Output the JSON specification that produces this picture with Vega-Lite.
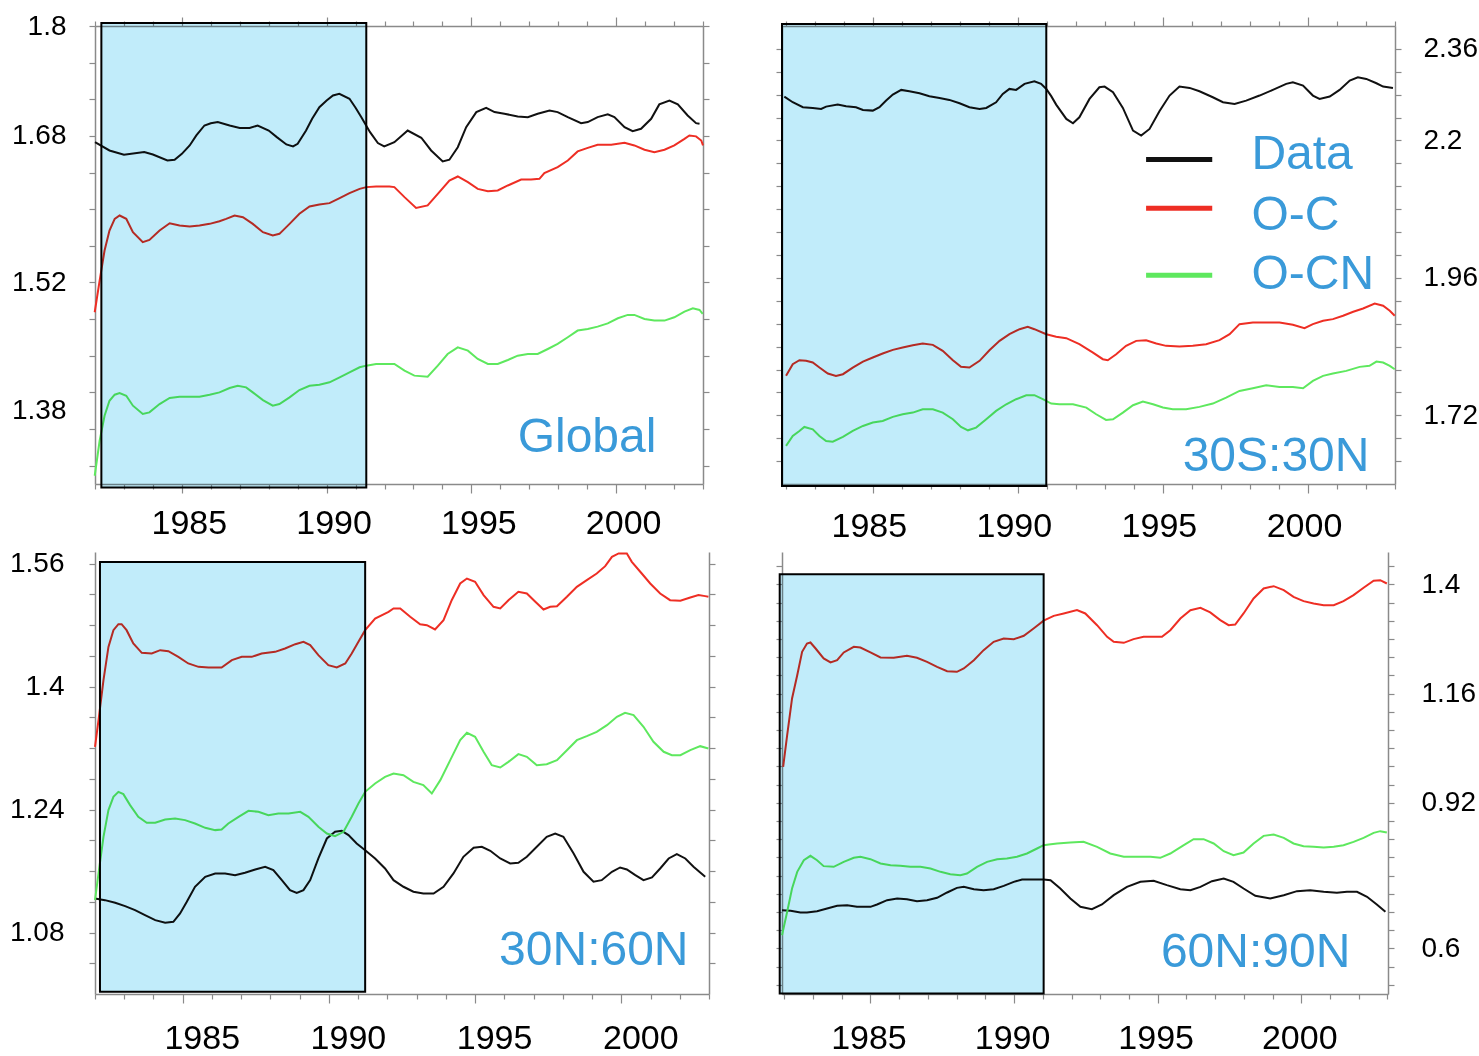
{
  "$schema": "https://vega.github.io/schema/vega-lite/v6.json",
  "padding": {"left": 9, "top": 12, "right": 0, "bottom": 10},
  "background": "white",
  "columns": 2,
  "spacing": {"row": 68, "column": 73},
  "bounds": "flush",
  "config": {
    "view": {"stroke": null},
    "axis": {"grid": false, "domainColor": "#8a8a8a", "domainWidth": 1.5, "tickColor": "#8a8a8a", "tickWidth": 1.2, "tickSize": 6, "labelFont": "Liberation Sans", "labelFontSize": 28, "labelColor": "#000000", "labelOverlap": false, "labelFlush": false, "labelBound": false, "title": null}
  },
  "datasets": {
    "tl": [
      {"year":1982.0,"value":1.6732,"series":"Data"},{"year":1982.5,"value":1.6641,"series":"Data"},{"year":1983.0,"value":1.6594,"series":"Data"},{"year":1983.7,"value":1.6623,"series":"Data"},{"year":1984.0,"value":1.6597,"series":"Data"},{"year":1984.5,"value":1.6532,"series":"Data"},{"year":1984.75,"value":1.654,"series":"Data"},{"year":1985.0,"value":1.6604,"series":"Data"},{"year":1985.27,"value":1.6696,"series":"Data"},{"year":1985.5,"value":1.6805,"series":"Data"},{"year":1985.78,"value":1.6914,"series":"Data"},{"year":1986.0,"value":1.6939,"series":"Data"},{"year":1986.24,"value":1.6951,"series":"Data"},{"year":1986.65,"value":1.6914,"series":"Data"},{"year":1987.0,"value":1.6886,"series":"Data"},{"year":1987.34,"value":1.6886,"series":"Data"},{"year":1987.62,"value":1.6914,"series":"Data"},{"year":1988.0,"value":1.6859,"series":"Data"},{"year":1988.28,"value":1.6787,"series":"Data"},{"year":1988.61,"value":1.6707,"series":"Data"},{"year":1988.84,"value":1.6685,"series":"Data"},{"year":1989.0,"value":1.6714,"series":"Data"},{"year":1989.29,"value":1.6859,"series":"Data"},{"year":1989.5,"value":1.6987,"series":"Data"},{"year":1989.75,"value":1.7114,"series":"Data"},{"year":1990.0,"value":1.7187,"series":"Data"},{"year":1990.22,"value":1.7242,"series":"Data"},{"year":1990.44,"value":1.726,"series":"Data"},{"year":1990.79,"value":1.7206,"series":"Data"},{"year":1991.0,"value":1.7107,"series":"Data"},{"year":1991.2,"value":1.7005,"series":"Data"},{"year":1991.5,"value":1.6841,"series":"Data"},{"year":1991.77,"value":1.6722,"series":"Data"},{"year":1991.99,"value":1.6685,"series":"Data"},{"year":1992.34,"value":1.6732,"series":"Data"},{"year":1992.8,"value":1.6859,"series":"Data"},{"year":1993.27,"value":1.678,"series":"Data"},{"year":1993.61,"value":1.6641,"series":"Data"},{"year":1994.01,"value":1.6521,"series":"Data"},{"year":1994.24,"value":1.654,"series":"Data"},{"year":1994.53,"value":1.6677,"series":"Data"},{"year":1994.82,"value":1.6896,"series":"Data"},{"year":1995.17,"value":1.706,"series":"Data"},{"year":1995.51,"value":1.7107,"series":"Data"},{"year":1995.8,"value":1.706,"series":"Data"},{"year":1996.14,"value":1.7042,"series":"Data"},{"year":1996.6,"value":1.7013,"series":"Data"},{"year":1996.95,"value":1.7005,"series":"Data"},{"year":1997.29,"value":1.7042,"series":"Data"},{"year":1997.7,"value":1.7078,"series":"Data"},{"year":1997.98,"value":1.706,"series":"Data"},{"year":1998.33,"value":1.7005,"series":"Data"},{"year":1998.79,"value":1.6939,"series":"Data"},{"year":1999.02,"value":1.6951,"series":"Data"},{"year":1999.36,"value":1.7005,"series":"Data"},{"year":1999.71,"value":1.7035,"series":"Data"},{"year":1999.94,"value":1.7005,"series":"Data"},{"year":2000.29,"value":1.6896,"series":"Data"},{"year":2000.57,"value":1.6852,"series":"Data"},{"year":2000.86,"value":1.6878,"series":"Data"},{"year":2001.21,"value":1.6987,"series":"Data"},{"year":2001.49,"value":1.7144,"series":"Data"},{"year":2001.84,"value":1.7187,"series":"Data"},{"year":2002.13,"value":1.7144,"series":"Data"},{"year":2002.47,"value":1.7023,"series":"Data"},{"year":2002.76,"value":1.6939,"series":"Data"},{"year":2002.88,"value":1.6932,"series":"Data"},
      {"year":1981.99,"value":1.4875,"series":"O-C"},{"year":1982.16,"value":1.5221,"series":"O-C"},{"year":1982.33,"value":1.5549,"series":"O-C"},{"year":1982.5,"value":1.5767,"series":"O-C"},{"year":1982.68,"value":1.5895,"series":"O-C"},{"year":1982.85,"value":1.5931,"series":"O-C"},{"year":1983.08,"value":1.5895,"series":"O-C"},{"year":1983.31,"value":1.5749,"series":"O-C"},{"year":1983.65,"value":1.564,"series":"O-C"},{"year":1983.88,"value":1.5665,"series":"O-C"},{"year":1984.23,"value":1.5767,"series":"O-C"},{"year":1984.58,"value":1.5847,"series":"O-C"},{"year":1984.92,"value":1.5822,"series":"O-C"},{"year":1985.27,"value":1.5811,"series":"O-C"},{"year":1985.61,"value":1.5822,"series":"O-C"},{"year":1985.96,"value":1.584,"series":"O-C"},{"year":1986.3,"value":1.5869,"series":"O-C"},{"year":1986.53,"value":1.5895,"series":"O-C"},{"year":1986.82,"value":1.5931,"series":"O-C"},{"year":1987.11,"value":1.5913,"series":"O-C"},{"year":1987.45,"value":1.584,"series":"O-C"},{"year":1987.8,"value":1.5749,"series":"O-C"},{"year":1988.14,"value":1.5713,"series":"O-C"},{"year":1988.37,"value":1.5731,"series":"O-C"},{"year":1988.72,"value":1.584,"series":"O-C"},{"year":1989.06,"value":1.595,"series":"O-C"},{"year":1989.41,"value":1.603,"series":"O-C"},{"year":1989.75,"value":1.6051,"series":"O-C"},{"year":1990.1,"value":1.6066,"series":"O-C"},{"year":1990.45,"value":1.6121,"series":"O-C"},{"year":1990.79,"value":1.6175,"series":"O-C"},{"year":1991.14,"value":1.6222,"series":"O-C"},{"year":1991.37,"value":1.6241,"series":"O-C"},{"year":1991.71,"value":1.6248,"series":"O-C"},{"year":1992.17,"value":1.6248,"series":"O-C"},{"year":1992.34,"value":1.6241,"series":"O-C"},{"year":1992.69,"value":1.6132,"series":"O-C"},{"year":1993.09,"value":1.6014,"series":"O-C"},{"year":1993.49,"value":1.6041,"series":"O-C"},{"year":1993.84,"value":1.6168,"series":"O-C"},{"year":1994.24,"value":1.6313,"series":"O-C"},{"year":1994.53,"value":1.6357,"series":"O-C"},{"year":1994.88,"value":1.6295,"series":"O-C"},{"year":1995.22,"value":1.6222,"series":"O-C"},{"year":1995.57,"value":1.6197,"series":"O-C"},{"year":1995.91,"value":1.6205,"series":"O-C"},{"year":1996.26,"value":1.6259,"series":"O-C"},{"year":1996.72,"value":1.6324,"series":"O-C"},{"year":1997.06,"value":1.6324,"series":"O-C"},{"year":1997.35,"value":1.6332,"series":"O-C"},{"year":1997.52,"value":1.6394,"series":"O-C"},{"year":1997.98,"value":1.6459,"series":"O-C"},{"year":1998.33,"value":1.6532,"series":"O-C"},{"year":1998.67,"value":1.6631,"series":"O-C"},{"year":1999.02,"value":1.667,"series":"O-C"},{"year":1999.36,"value":1.6704,"series":"O-C"},{"year":1999.83,"value":1.6704,"series":"O-C"},{"year":2000.29,"value":1.6725,"series":"O-C"},{"year":2000.63,"value":1.6696,"series":"O-C"},{"year":2000.98,"value":1.6649,"series":"O-C"},{"year":2001.32,"value":1.6623,"series":"O-C"},{"year":2001.67,"value":1.6649,"series":"O-C"},{"year":2002.01,"value":1.6696,"series":"O-C"},{"year":2002.36,"value":1.6768,"series":"O-C"},{"year":2002.53,"value":1.6805,"series":"O-C"},{"year":2002.76,"value":1.6795,"series":"O-C"},{"year":2002.94,"value":1.675,"series":"O-C"},{"year":2003.0,"value":1.6696,"series":"O-C"},
      {"year":1981.99,"value":1.309,"series":"O-CN"},{"year":1982.16,"value":1.3472,"series":"O-CN"},{"year":1982.33,"value":1.3745,"series":"O-CN"},{"year":1982.5,"value":1.3909,"series":"O-CN"},{"year":1982.68,"value":1.3975,"series":"O-CN"},{"year":1982.85,"value":1.3993,"series":"O-CN"},{"year":1983.08,"value":1.3964,"series":"O-CN"},{"year":1983.31,"value":1.3855,"series":"O-CN"},{"year":1983.65,"value":1.3764,"series":"O-CN"},{"year":1983.88,"value":1.3782,"series":"O-CN"},{"year":1984.23,"value":1.3873,"series":"O-CN"},{"year":1984.58,"value":1.3939,"series":"O-CN"},{"year":1984.92,"value":1.3953,"series":"O-CN"},{"year":1985.27,"value":1.3953,"series":"O-CN"},{"year":1985.61,"value":1.3953,"series":"O-CN"},{"year":1985.96,"value":1.3975,"series":"O-CN"},{"year":1986.3,"value":1.4,"series":"O-CN"},{"year":1986.65,"value":1.4048,"series":"O-CN"},{"year":1986.93,"value":1.4073,"series":"O-CN"},{"year":1987.22,"value":1.4055,"series":"O-CN"},{"year":1987.45,"value":1.4,"series":"O-CN"},{"year":1987.8,"value":1.3916,"series":"O-CN"},{"year":1988.14,"value":1.3855,"series":"O-CN"},{"year":1988.37,"value":1.3873,"series":"O-CN"},{"year":1988.72,"value":1.3946,"series":"O-CN"},{"year":1989.06,"value":1.4026,"series":"O-CN"},{"year":1989.41,"value":1.4073,"series":"O-CN"},{"year":1989.75,"value":1.4084,"series":"O-CN"},{"year":1990.1,"value":1.411,"series":"O-CN"},{"year":1990.45,"value":1.4164,"series":"O-CN"},{"year":1990.79,"value":1.4219,"series":"O-CN"},{"year":1991.14,"value":1.4274,"series":"O-CN"},{"year":1991.37,"value":1.4292,"series":"O-CN"},{"year":1991.71,"value":1.431,"series":"O-CN"},{"year":1992.17,"value":1.431,"series":"O-CN"},{"year":1992.34,"value":1.431,"series":"O-CN"},{"year":1992.69,"value":1.4237,"series":"O-CN"},{"year":1993.03,"value":1.4183,"series":"O-CN"},{"year":1993.49,"value":1.4171,"series":"O-CN"},{"year":1993.84,"value":1.4292,"series":"O-CN"},{"year":1994.18,"value":1.4419,"series":"O-CN"},{"year":1994.53,"value":1.4492,"series":"O-CN"},{"year":1994.88,"value":1.4456,"series":"O-CN"},{"year":1995.22,"value":1.4365,"series":"O-CN"},{"year":1995.57,"value":1.431,"series":"O-CN"},{"year":1995.91,"value":1.431,"series":"O-CN"},{"year":1996.26,"value":1.4354,"series":"O-CN"},{"year":1996.6,"value":1.4401,"series":"O-CN"},{"year":1996.95,"value":1.4419,"series":"O-CN"},{"year":1997.29,"value":1.4419,"series":"O-CN"},{"year":1997.64,"value":1.4474,"series":"O-CN"},{"year":1997.98,"value":1.4529,"series":"O-CN"},{"year":1998.33,"value":1.4602,"series":"O-CN"},{"year":1998.67,"value":1.4675,"series":"O-CN"},{"year":1999.02,"value":1.4693,"series":"O-CN"},{"year":1999.36,"value":1.4718,"series":"O-CN"},{"year":1999.71,"value":1.4754,"series":"O-CN"},{"year":2000.06,"value":1.4809,"series":"O-CN"},{"year":2000.4,"value":1.4846,"series":"O-CN"},{"year":2000.63,"value":1.4846,"series":"O-CN"},{"year":2000.98,"value":1.4802,"series":"O-CN"},{"year":2001.32,"value":1.4784,"series":"O-CN"},{"year":2001.67,"value":1.4784,"series":"O-CN"},{"year":2002.01,"value":1.482,"series":"O-CN"},{"year":2002.36,"value":1.4882,"series":"O-CN"},{"year":2002.65,"value":1.4918,"series":"O-CN"},{"year":2002.88,"value":1.49,"series":"O-CN"},{"year":2002.99,"value":1.4857,"series":"O-CN"}
    ],
    "tr": [
      {"year":1981.95,"value":2.2767,"series":"Data"},{"year":1982.24,"value":2.2668,"series":"Data"},{"year":1982.59,"value":2.2581,"series":"Data"},{"year":1982.93,"value":2.2569,"series":"Data"},{"year":1983.22,"value":2.2551,"series":"Data"},{"year":1983.39,"value":2.2592,"series":"Data"},{"year":1983.79,"value":2.2627,"series":"Data"},{"year":1984.08,"value":2.2598,"series":"Data"},{"year":1984.42,"value":2.2581,"series":"Data"},{"year":1984.66,"value":2.2534,"series":"Data"},{"year":1985.0,"value":2.2522,"series":"Data"},{"year":1985.23,"value":2.2581,"series":"Data"},{"year":1985.46,"value":2.2697,"series":"Data"},{"year":1985.69,"value":2.2802,"series":"Data"},{"year":1985.98,"value":2.2884,"series":"Data"},{"year":1986.26,"value":2.286,"series":"Data"},{"year":1986.61,"value":2.2825,"series":"Data"},{"year":1986.95,"value":2.2773,"series":"Data"},{"year":1987.3,"value":2.2744,"series":"Data"},{"year":1987.64,"value":2.2709,"series":"Data"},{"year":1987.99,"value":2.2651,"series":"Data"},{"year":1988.33,"value":2.2581,"series":"Data"},{"year":1988.68,"value":2.2551,"series":"Data"},{"year":1988.91,"value":2.2569,"series":"Data"},{"year":1989.25,"value":2.2668,"series":"Data"},{"year":1989.48,"value":2.2814,"series":"Data"},{"year":1989.71,"value":2.2901,"series":"Data"},{"year":1989.94,"value":2.2884,"series":"Data"},{"year":1990.23,"value":2.2989,"series":"Data"},{"year":1990.57,"value":2.3035,"series":"Data"},{"year":1990.8,"value":2.2989,"series":"Data"},{"year":1990.98,"value":2.29,"series":"Data"},{"year":1991.15,"value":2.2775,"series":"Data"},{"year":1991.32,"value":2.2627,"series":"Data"},{"year":1991.67,"value":2.2377,"series":"Data"},{"year":1991.9,"value":2.2301,"series":"Data"},{"year":1992.12,"value":2.2406,"series":"Data"},{"year":1992.47,"value":2.2726,"series":"Data"},{"year":1992.81,"value":2.293,"series":"Data"},{"year":1992.99,"value":2.2942,"series":"Data"},{"year":1993.28,"value":2.2843,"series":"Data"},{"year":1993.62,"value":2.2569,"series":"Data"},{"year":1993.97,"value":2.2173,"series":"Data"},{"year":1994.25,"value":2.2085,"series":"Data"},{"year":1994.54,"value":2.2202,"series":"Data"},{"year":1994.88,"value":2.2511,"series":"Data"},{"year":1995.23,"value":2.2785,"series":"Data"},{"year":1995.57,"value":2.2942,"series":"Data"},{"year":1995.92,"value":2.2919,"series":"Data"},{"year":1996.26,"value":2.286,"series":"Data"},{"year":1996.72,"value":2.2755,"series":"Data"},{"year":1997.07,"value":2.2668,"series":"Data"},{"year":1997.47,"value":2.2639,"series":"Data"},{"year":1997.87,"value":2.2697,"series":"Data"},{"year":1998.33,"value":2.2785,"series":"Data"},{"year":1998.79,"value":2.2884,"series":"Data"},{"year":1999.25,"value":2.2989,"series":"Data"},{"year":1999.48,"value":2.3018,"series":"Data"},{"year":1999.83,"value":2.296,"series":"Data"},{"year":2000.17,"value":2.2785,"series":"Data"},{"year":2000.4,"value":2.2726,"series":"Data"},{"year":2000.75,"value":2.2767,"series":"Data"},{"year":2001.09,"value":2.2884,"series":"Data"},{"year":2001.44,"value":2.3047,"series":"Data"},{"year":2001.72,"value":2.3105,"series":"Data"},{"year":2002.01,"value":2.3076,"series":"Data"},{"year":2002.36,"value":2.3,"series":"Data"},{"year":2002.59,"value":2.2942,"series":"Data"},{"year":2002.93,"value":2.2919,"series":"Data"},
      {"year":1982.01,"value":1.7889,"series":"O-C"},{"year":1982.24,"value":1.8093,"series":"O-C"},{"year":1982.47,"value":1.8162,"series":"O-C"},{"year":1982.7,"value":1.8151,"series":"O-C"},{"year":1982.93,"value":1.8122,"series":"O-C"},{"year":1983.16,"value":1.8034,"series":"O-C"},{"year":1983.45,"value":1.7929,"series":"O-C"},{"year":1983.73,"value":1.7889,"series":"O-C"},{"year":1983.97,"value":1.7918,"series":"O-C"},{"year":1984.31,"value":1.8034,"series":"O-C"},{"year":1984.66,"value":1.8139,"series":"O-C"},{"year":1985.0,"value":1.8209,"series":"O-C"},{"year":1985.34,"value":1.8279,"series":"O-C"},{"year":1985.69,"value":1.8343,"series":"O-C"},{"year":1986.03,"value":1.8384,"series":"O-C"},{"year":1986.38,"value":1.8425,"series":"O-C"},{"year":1986.72,"value":1.8454,"series":"O-C"},{"year":1987.07,"value":1.843,"series":"O-C"},{"year":1987.41,"value":1.8326,"series":"O-C"},{"year":1987.76,"value":1.8162,"series":"O-C"},{"year":1988.04,"value":1.8046,"series":"O-C"},{"year":1988.33,"value":1.8034,"series":"O-C"},{"year":1988.68,"value":1.8151,"series":"O-C"},{"year":1989.02,"value":1.8337,"series":"O-C"},{"year":1989.37,"value":1.85,"series":"O-C"},{"year":1989.71,"value":1.8617,"series":"O-C"},{"year":1990.06,"value":1.8704,"series":"O-C"},{"year":1990.34,"value":1.8745,"series":"O-C"},{"year":1990.57,"value":1.8704,"series":"O-C"},{"year":1990.98,"value":1.8617,"series":"O-C"},{"year":1991.32,"value":1.8571,"series":"O-C"},{"year":1991.67,"value":1.8547,"series":"O-C"},{"year":1992.12,"value":1.8442,"series":"O-C"},{"year":1992.59,"value":1.8296,"series":"O-C"},{"year":1992.93,"value":1.818,"series":"O-C"},{"year":1993.1,"value":1.8162,"series":"O-C"},{"year":1993.39,"value":1.8267,"series":"O-C"},{"year":1993.73,"value":1.8413,"series":"O-C"},{"year":1994.08,"value":1.85,"series":"O-C"},{"year":1994.42,"value":1.8512,"series":"O-C"},{"year":1994.77,"value":1.8454,"series":"O-C"},{"year":1995.11,"value":1.8413,"series":"O-C"},{"year":1995.57,"value":1.8401,"series":"O-C"},{"year":1996.03,"value":1.8413,"series":"O-C"},{"year":1996.49,"value":1.8442,"series":"O-C"},{"year":1996.95,"value":1.8512,"series":"O-C"},{"year":1997.3,"value":1.8617,"series":"O-C"},{"year":1997.64,"value":1.8792,"series":"O-C"},{"year":1998.1,"value":1.8821,"series":"O-C"},{"year":1998.56,"value":1.8821,"series":"O-C"},{"year":1999.02,"value":1.8821,"series":"O-C"},{"year":1999.48,"value":1.878,"series":"O-C"},{"year":1999.88,"value":1.8722,"series":"O-C"},{"year":2000.17,"value":1.8792,"series":"O-C"},{"year":2000.52,"value":1.885,"series":"O-C"},{"year":2000.86,"value":1.888,"series":"O-C"},{"year":2001.21,"value":1.8938,"series":"O-C"},{"year":2001.56,"value":1.9008,"series":"O-C"},{"year":2001.9,"value":1.9066,"series":"O-C"},{"year":2002.3,"value":1.9153,"series":"O-C"},{"year":2002.59,"value":1.9113,"series":"O-C"},{"year":2002.82,"value":1.9025,"series":"O-C"},{"year":2002.99,"value":1.8938,"series":"O-C"},
      {"year":1982.01,"value":1.6665,"series":"O-CN"},{"year":1982.24,"value":1.6839,"series":"O-CN"},{"year":1982.47,"value":1.6927,"series":"O-CN"},{"year":1982.64,"value":1.6997,"series":"O-CN"},{"year":1982.93,"value":1.6956,"series":"O-CN"},{"year":1983.16,"value":1.6839,"series":"O-CN"},{"year":1983.39,"value":1.6752,"series":"O-CN"},{"year":1983.62,"value":1.674,"series":"O-CN"},{"year":1983.97,"value":1.6822,"series":"O-CN"},{"year":1984.31,"value":1.6927,"series":"O-CN"},{"year":1984.66,"value":1.7014,"series":"O-CN"},{"year":1985.0,"value":1.7073,"series":"O-CN"},{"year":1985.34,"value":1.7102,"series":"O-CN"},{"year":1985.69,"value":1.7172,"series":"O-CN"},{"year":1986.03,"value":1.7218,"series":"O-CN"},{"year":1986.38,"value":1.7247,"series":"O-CN"},{"year":1986.72,"value":1.7306,"series":"O-CN"},{"year":1987.07,"value":1.7306,"series":"O-CN"},{"year":1987.41,"value":1.7247,"series":"O-CN"},{"year":1987.76,"value":1.7131,"series":"O-CN"},{"year":1988.04,"value":1.6997,"series":"O-CN"},{"year":1988.28,"value":1.6938,"series":"O-CN"},{"year":1988.56,"value":1.6985,"series":"O-CN"},{"year":1988.91,"value":1.7131,"series":"O-CN"},{"year":1989.25,"value":1.7277,"series":"O-CN"},{"year":1989.6,"value":1.7393,"series":"O-CN"},{"year":1989.94,"value":1.7481,"series":"O-CN"},{"year":1990.29,"value":1.7551,"series":"O-CN"},{"year":1990.57,"value":1.7551,"series":"O-CN"},{"year":1990.86,"value":1.7481,"series":"O-CN"},{"year":1991.15,"value":1.7405,"series":"O-CN"},{"year":1991.43,"value":1.7393,"series":"O-CN"},{"year":1991.9,"value":1.7393,"series":"O-CN"},{"year":1992.36,"value":1.7335,"series":"O-CN"},{"year":1992.7,"value":1.7218,"series":"O-CN"},{"year":1993.04,"value":1.7119,"series":"O-CN"},{"year":1993.28,"value":1.7131,"series":"O-CN"},{"year":1993.62,"value":1.7247,"series":"O-CN"},{"year":1993.97,"value":1.7376,"series":"O-CN"},{"year":1994.31,"value":1.744,"series":"O-CN"},{"year":1994.66,"value":1.7393,"series":"O-CN"},{"year":1995.0,"value":1.7335,"series":"O-CN"},{"year":1995.34,"value":1.7306,"series":"O-CN"},{"year":1995.8,"value":1.7306,"series":"O-CN"},{"year":1996.26,"value":1.7347,"series":"O-CN"},{"year":1996.72,"value":1.7405,"series":"O-CN"},{"year":1997.18,"value":1.751,"series":"O-CN"},{"year":1997.64,"value":1.7626,"series":"O-CN"},{"year":1998.1,"value":1.7673,"series":"O-CN"},{"year":1998.56,"value":1.7725,"series":"O-CN"},{"year":1999.02,"value":1.7696,"series":"O-CN"},{"year":1999.48,"value":1.7696,"series":"O-CN"},{"year":1999.83,"value":1.7673,"series":"O-CN"},{"year":2000.17,"value":1.7801,"series":"O-CN"},{"year":2000.52,"value":1.7889,"series":"O-CN"},{"year":2000.86,"value":1.7929,"series":"O-CN"},{"year":2001.32,"value":1.7976,"series":"O-CN"},{"year":2001.78,"value":1.8046,"series":"O-CN"},{"year":2002.12,"value":1.8064,"series":"O-CN"},{"year":2002.36,"value":1.8139,"series":"O-CN"},{"year":2002.59,"value":1.8122,"series":"O-CN"},{"year":2002.82,"value":1.8064,"series":"O-CN"},{"year":2002.99,"value":1.8005,"series":"O-CN"}
    ],
    "bl": [
      {"year":1982.0,"value":1.1243,"series":"Data"},{"year":1982.34,"value":1.1221,"series":"Data"},{"year":1982.69,"value":1.1186,"series":"Data"},{"year":1983.03,"value":1.1143,"series":"Data"},{"year":1983.37,"value":1.1091,"series":"Data"},{"year":1983.71,"value":1.1026,"series":"Data"},{"year":1984.06,"value":1.0961,"series":"Data"},{"year":1984.4,"value":1.0926,"series":"Data"},{"year":1984.68,"value":1.0939,"series":"Data"},{"year":1984.91,"value":1.1048,"series":"Data"},{"year":1985.14,"value":1.1199,"series":"Data"},{"year":1985.42,"value":1.1395,"series":"Data"},{"year":1985.77,"value":1.1525,"series":"Data"},{"year":1986.11,"value":1.1568,"series":"Data"},{"year":1986.45,"value":1.1568,"series":"Data"},{"year":1986.79,"value":1.1546,"series":"Data"},{"year":1987.13,"value":1.1577,"series":"Data"},{"year":1987.48,"value":1.162,"series":"Data"},{"year":1987.82,"value":1.1655,"series":"Data"},{"year":1988.1,"value":1.1611,"series":"Data"},{"year":1988.39,"value":1.1481,"series":"Data"},{"year":1988.67,"value":1.1351,"series":"Data"},{"year":1988.9,"value":1.1316,"series":"Data"},{"year":1989.13,"value":1.1351,"series":"Data"},{"year":1989.36,"value":1.1481,"series":"Data"},{"year":1989.64,"value":1.1763,"series":"Data"},{"year":1989.93,"value":1.2023,"series":"Data"},{"year":1990.21,"value":1.211,"series":"Data"},{"year":1990.44,"value":1.2123,"series":"Data"},{"year":1990.67,"value":1.2067,"series":"Data"},{"year":1990.95,"value":1.1958,"series":"Data"},{"year":1991.24,"value":1.1871,"series":"Data"},{"year":1991.58,"value":1.1763,"series":"Data"},{"year":1991.92,"value":1.1633,"series":"Data"},{"year":1992.21,"value":1.1481,"series":"Data"},{"year":1992.55,"value":1.1395,"series":"Data"},{"year":1992.89,"value":1.133,"series":"Data"},{"year":1993.23,"value":1.1308,"series":"Data"},{"year":1993.58,"value":1.1308,"series":"Data"},{"year":1993.92,"value":1.1395,"series":"Data"},{"year":1994.26,"value":1.1568,"series":"Data"},{"year":1994.6,"value":1.1785,"series":"Data"},{"year":1994.95,"value":1.1902,"series":"Data"},{"year":1995.23,"value":1.1915,"series":"Data"},{"year":1995.52,"value":1.1863,"series":"Data"},{"year":1995.86,"value":1.1763,"series":"Data"},{"year":1996.2,"value":1.1698,"series":"Data"},{"year":1996.48,"value":1.1707,"series":"Data"},{"year":1996.77,"value":1.1785,"series":"Data"},{"year":1997.11,"value":1.1915,"series":"Data"},{"year":1997.45,"value":1.2045,"series":"Data"},{"year":1997.74,"value":1.2088,"series":"Data"},{"year":1998.02,"value":1.2045,"series":"Data"},{"year":1998.37,"value":1.1828,"series":"Data"},{"year":1998.71,"value":1.159,"series":"Data"},{"year":1999.05,"value":1.146,"series":"Data"},{"year":1999.33,"value":1.1481,"series":"Data"},{"year":1999.68,"value":1.159,"series":"Data"},{"year":1999.96,"value":1.1646,"series":"Data"},{"year":2000.19,"value":1.162,"series":"Data"},{"year":2000.48,"value":1.1546,"series":"Data"},{"year":2000.76,"value":1.1481,"series":"Data"},{"year":2001.05,"value":1.1516,"series":"Data"},{"year":2001.33,"value":1.1633,"series":"Data"},{"year":2001.62,"value":1.1763,"series":"Data"},{"year":2001.9,"value":1.1819,"series":"Data"},{"year":2002.19,"value":1.1763,"series":"Data"},{"year":2002.47,"value":1.1655,"series":"Data"},{"year":2002.87,"value":1.1525,"series":"Data"},
      {"year":1982.0,"value":1.3216,"series":"O-C"},{"year":1982.12,"value":1.3562,"series":"O-C"},{"year":1982.29,"value":1.4083,"series":"O-C"},{"year":1982.46,"value":1.4516,"series":"O-C"},{"year":1982.63,"value":1.4733,"series":"O-C"},{"year":1982.8,"value":1.4811,"series":"O-C"},{"year":1982.91,"value":1.4811,"series":"O-C"},{"year":1983.08,"value":1.4733,"series":"O-C"},{"year":1983.31,"value":1.456,"series":"O-C"},{"year":1983.6,"value":1.4438,"series":"O-C"},{"year":1983.94,"value":1.443,"series":"O-C"},{"year":1984.23,"value":1.4473,"series":"O-C"},{"year":1984.51,"value":1.446,"series":"O-C"},{"year":1984.85,"value":1.4386,"series":"O-C"},{"year":1985.19,"value":1.43,"series":"O-C"},{"year":1985.54,"value":1.4256,"series":"O-C"},{"year":1985.88,"value":1.4248,"series":"O-C"},{"year":1986.33,"value":1.4248,"series":"O-C"},{"year":1986.68,"value":1.4343,"series":"O-C"},{"year":1987.02,"value":1.4386,"series":"O-C"},{"year":1987.36,"value":1.4386,"series":"O-C"},{"year":1987.7,"value":1.443,"series":"O-C"},{"year":1988.16,"value":1.4451,"series":"O-C"},{"year":1988.5,"value":1.4495,"series":"O-C"},{"year":1988.85,"value":1.4551,"series":"O-C"},{"year":1989.13,"value":1.4581,"series":"O-C"},{"year":1989.36,"value":1.4538,"series":"O-C"},{"year":1989.64,"value":1.4408,"series":"O-C"},{"year":1989.98,"value":1.4278,"series":"O-C"},{"year":1990.27,"value":1.4248,"series":"O-C"},{"year":1990.56,"value":1.43,"series":"O-C"},{"year":1990.78,"value":1.443,"series":"O-C"},{"year":1991.01,"value":1.4581,"series":"O-C"},{"year":1991.24,"value":1.4733,"series":"O-C"},{"year":1991.58,"value":1.4885,"series":"O-C"},{"year":1992.04,"value":1.4972,"series":"O-C"},{"year":1992.21,"value":1.5015,"series":"O-C"},{"year":1992.44,"value":1.5015,"series":"O-C"},{"year":1992.78,"value":1.4907,"series":"O-C"},{"year":1993.12,"value":1.4811,"series":"O-C"},{"year":1993.35,"value":1.4798,"series":"O-C"},{"year":1993.63,"value":1.4742,"series":"O-C"},{"year":1993.92,"value":1.4863,"series":"O-C"},{"year":1994.2,"value":1.5123,"series":"O-C"},{"year":1994.49,"value":1.534,"series":"O-C"},{"year":1994.72,"value":1.5405,"series":"O-C"},{"year":1995.0,"value":1.5362,"series":"O-C"},{"year":1995.29,"value":1.5189,"series":"O-C"},{"year":1995.63,"value":1.5037,"series":"O-C"},{"year":1995.86,"value":1.5015,"series":"O-C"},{"year":1996.14,"value":1.5123,"series":"O-C"},{"year":1996.48,"value":1.5232,"series":"O-C"},{"year":1996.77,"value":1.521,"series":"O-C"},{"year":1997.06,"value":1.5102,"series":"O-C"},{"year":1997.34,"value":1.5002,"series":"O-C"},{"year":1997.57,"value":1.5037,"series":"O-C"},{"year":1997.8,"value":1.5045,"series":"O-C"},{"year":1998.14,"value":1.5167,"series":"O-C"},{"year":1998.48,"value":1.5297,"series":"O-C"},{"year":1998.82,"value":1.5384,"series":"O-C"},{"year":1999.16,"value":1.547,"series":"O-C"},{"year":1999.45,"value":1.5566,"series":"O-C"},{"year":1999.68,"value":1.5687,"series":"O-C"},{"year":1999.91,"value":1.5731,"series":"O-C"},{"year":2000.19,"value":1.5731,"series":"O-C"},{"year":2000.36,"value":1.5622,"series":"O-C"},{"year":2000.7,"value":1.547,"series":"O-C"},{"year":2000.99,"value":1.534,"series":"O-C"},{"year":2001.33,"value":1.521,"series":"O-C"},{"year":2001.67,"value":1.5123,"series":"O-C"},{"year":2002.02,"value":1.5115,"series":"O-C"},{"year":2002.36,"value":1.5158,"series":"O-C"},{"year":2002.64,"value":1.5189,"series":"O-C"},{"year":2002.87,"value":1.5176,"series":"O-C"},{"year":2002.98,"value":1.5167,"series":"O-C"},
      {"year":1982.0,"value":1.1221,"series":"O-CN"},{"year":1982.12,"value":1.1568,"series":"O-CN"},{"year":1982.29,"value":1.2045,"series":"O-CN"},{"year":1982.46,"value":1.2392,"series":"O-CN"},{"year":1982.63,"value":1.2565,"series":"O-CN"},{"year":1982.8,"value":1.263,"series":"O-CN"},{"year":1982.97,"value":1.26,"series":"O-CN"},{"year":1983.2,"value":1.2457,"series":"O-CN"},{"year":1983.48,"value":1.2305,"series":"O-CN"},{"year":1983.77,"value":1.2227,"series":"O-CN"},{"year":1984.06,"value":1.2227,"series":"O-CN"},{"year":1984.4,"value":1.227,"series":"O-CN"},{"year":1984.74,"value":1.2283,"series":"O-CN"},{"year":1985.08,"value":1.2262,"series":"O-CN"},{"year":1985.42,"value":1.2218,"series":"O-CN"},{"year":1985.77,"value":1.2162,"series":"O-CN"},{"year":1986.11,"value":1.2132,"series":"O-CN"},{"year":1986.33,"value":1.214,"series":"O-CN"},{"year":1986.56,"value":1.2218,"series":"O-CN"},{"year":1986.91,"value":1.2305,"series":"O-CN"},{"year":1987.25,"value":1.2383,"series":"O-CN"},{"year":1987.59,"value":1.237,"series":"O-CN"},{"year":1987.93,"value":1.2327,"series":"O-CN"},{"year":1988.27,"value":1.2348,"series":"O-CN"},{"year":1988.62,"value":1.2348,"series":"O-CN"},{"year":1989.02,"value":1.237,"series":"O-CN"},{"year":1989.3,"value":1.2305,"series":"O-CN"},{"year":1989.64,"value":1.2175,"series":"O-CN"},{"year":1989.93,"value":1.2088,"series":"O-CN"},{"year":1990.21,"value":1.2054,"series":"O-CN"},{"year":1990.5,"value":1.211,"series":"O-CN"},{"year":1990.78,"value":1.2305,"series":"O-CN"},{"year":1991.01,"value":1.2479,"series":"O-CN"},{"year":1991.24,"value":1.263,"series":"O-CN"},{"year":1991.58,"value":1.2739,"series":"O-CN"},{"year":1991.92,"value":1.2825,"series":"O-CN"},{"year":1992.21,"value":1.2869,"series":"O-CN"},{"year":1992.55,"value":1.2847,"series":"O-CN"},{"year":1992.89,"value":1.276,"series":"O-CN"},{"year":1993.23,"value":1.2717,"series":"O-CN"},{"year":1993.52,"value":1.2609,"series":"O-CN"},{"year":1993.81,"value":1.2782,"series":"O-CN"},{"year":1994.15,"value":1.3042,"series":"O-CN"},{"year":1994.49,"value":1.3302,"series":"O-CN"},{"year":1994.72,"value":1.3398,"series":"O-CN"},{"year":1995.0,"value":1.3346,"series":"O-CN"},{"year":1995.29,"value":1.3151,"series":"O-CN"},{"year":1995.57,"value":1.2977,"series":"O-CN"},{"year":1995.86,"value":1.2947,"series":"O-CN"},{"year":1996.14,"value":1.302,"series":"O-CN"},{"year":1996.48,"value":1.312,"series":"O-CN"},{"year":1996.77,"value":1.3085,"series":"O-CN"},{"year":1997.11,"value":1.2977,"series":"O-CN"},{"year":1997.45,"value":1.299,"series":"O-CN"},{"year":1997.8,"value":1.3042,"series":"O-CN"},{"year":1998.14,"value":1.3172,"series":"O-CN"},{"year":1998.48,"value":1.3302,"series":"O-CN"},{"year":1998.82,"value":1.3354,"series":"O-CN"},{"year":1999.16,"value":1.3411,"series":"O-CN"},{"year":1999.51,"value":1.3497,"series":"O-CN"},{"year":1999.85,"value":1.3606,"series":"O-CN"},{"year":2000.13,"value":1.3658,"series":"O-CN"},{"year":2000.42,"value":1.3628,"series":"O-CN"},{"year":2000.76,"value":1.3476,"series":"O-CN"},{"year":2001.1,"value":1.3281,"series":"O-CN"},{"year":2001.45,"value":1.3151,"series":"O-CN"},{"year":2001.73,"value":1.3107,"series":"O-CN"},{"year":2002.02,"value":1.3107,"series":"O-CN"},{"year":2002.36,"value":1.3172,"series":"O-CN"},{"year":2002.7,"value":1.3224,"series":"O-CN"},{"year":2002.98,"value":1.3194,"series":"O-CN"}
    ],
    "br": [
      {"year":1981.92,"value":0.6843,"series":"Data"},{"year":1982.22,"value":0.6828,"series":"Data"},{"year":1982.56,"value":0.6791,"series":"Data"},{"year":1982.79,"value":0.6791,"series":"Data"},{"year":1983.14,"value":0.682,"series":"Data"},{"year":1983.49,"value":0.6879,"series":"Data"},{"year":1983.84,"value":0.6938,"series":"Data"},{"year":1984.19,"value":0.6952,"series":"Data"},{"year":1984.53,"value":0.6916,"series":"Data"},{"year":1985.0,"value":0.6916,"series":"Data"},{"year":1985.23,"value":0.6967,"series":"Data"},{"year":1985.58,"value":0.7062,"series":"Data"},{"year":1985.93,"value":0.7099,"series":"Data"},{"year":1986.27,"value":0.7084,"series":"Data"},{"year":1986.62,"value":0.704,"series":"Data"},{"year":1986.97,"value":0.7062,"series":"Data"},{"year":1987.32,"value":0.7114,"series":"Data"},{"year":1987.67,"value":0.7231,"series":"Data"},{"year":1988.01,"value":0.7333,"series":"Data"},{"year":1988.25,"value":0.7355,"series":"Data"},{"year":1988.6,"value":0.7304,"series":"Data"},{"year":1988.94,"value":0.7282,"series":"Data"},{"year":1989.29,"value":0.7304,"series":"Data"},{"year":1989.64,"value":0.7377,"series":"Data"},{"year":1989.99,"value":0.7465,"series":"Data"},{"year":1990.28,"value":0.7517,"series":"Data"},{"year":1990.68,"value":0.7517,"series":"Data"},{"year":1991.03,"value":0.7517,"series":"Data"},{"year":1991.27,"value":0.7502,"series":"Data"},{"year":1991.61,"value":0.7319,"series":"Data"},{"year":1991.96,"value":0.7099,"series":"Data"},{"year":1992.31,"value":0.6916,"series":"Data"},{"year":1992.71,"value":0.6865,"series":"Data"},{"year":1993.06,"value":0.6967,"series":"Data"},{"year":1993.47,"value":0.7172,"series":"Data"},{"year":1993.93,"value":0.7355,"series":"Data"},{"year":1994.4,"value":0.7465,"series":"Data"},{"year":1994.86,"value":0.7487,"series":"Data"},{"year":1995.32,"value":0.7392,"series":"Data"},{"year":1995.79,"value":0.7304,"series":"Data"},{"year":1996.14,"value":0.7282,"series":"Data"},{"year":1996.49,"value":0.7355,"series":"Data"},{"year":1996.89,"value":0.748,"series":"Data"},{"year":1997.3,"value":0.7538,"series":"Data"},{"year":1997.64,"value":0.7465,"series":"Data"},{"year":1997.99,"value":0.7319,"series":"Data"},{"year":1998.4,"value":0.7158,"series":"Data"},{"year":1998.92,"value":0.7099,"series":"Data"},{"year":1999.39,"value":0.7172,"series":"Data"},{"year":1999.85,"value":0.726,"series":"Data"},{"year":2000.31,"value":0.7282,"series":"Data"},{"year":2000.78,"value":0.7245,"series":"Data"},{"year":2001.24,"value":0.7223,"series":"Data"},{"year":2001.59,"value":0.7245,"series":"Data"},{"year":2001.94,"value":0.7245,"series":"Data"},{"year":2002.29,"value":0.7136,"series":"Data"},{"year":2002.63,"value":0.6967,"series":"Data"},{"year":2002.93,"value":0.6806,"series":"Data"},
      {"year":1981.96,"value":0.9993,"series":"O-C"},{"year":1982.1,"value":1.0689,"series":"O-C"},{"year":1982.27,"value":1.1495,"series":"O-C"},{"year":1982.45,"value":1.2007,"series":"O-C"},{"year":1982.62,"value":1.252,"series":"O-C"},{"year":1982.79,"value":1.2703,"series":"O-C"},{"year":1982.91,"value":1.2725,"series":"O-C"},{"year":1983.09,"value":1.2593,"series":"O-C"},{"year":1983.37,"value":1.2374,"series":"O-C"},{"year":1983.61,"value":1.2286,"series":"O-C"},{"year":1983.84,"value":1.2337,"series":"O-C"},{"year":1984.07,"value":1.2506,"series":"O-C"},{"year":1984.42,"value":1.263,"series":"O-C"},{"year":1984.65,"value":1.2615,"series":"O-C"},{"year":1985.0,"value":1.2506,"series":"O-C"},{"year":1985.35,"value":1.2396,"series":"O-C"},{"year":1985.81,"value":1.2388,"series":"O-C"},{"year":1986.27,"value":1.2432,"series":"O-C"},{"year":1986.62,"value":1.2388,"series":"O-C"},{"year":1986.97,"value":1.23,"series":"O-C"},{"year":1987.32,"value":1.219,"series":"O-C"},{"year":1987.67,"value":1.2095,"series":"O-C"},{"year":1988.01,"value":1.2081,"series":"O-C"},{"year":1988.25,"value":1.2154,"series":"O-C"},{"year":1988.6,"value":1.2337,"series":"O-C"},{"year":1988.94,"value":1.2557,"series":"O-C"},{"year":1989.29,"value":1.274,"series":"O-C"},{"year":1989.64,"value":1.2813,"series":"O-C"},{"year":1989.99,"value":1.2798,"series":"O-C"},{"year":1990.34,"value":1.2872,"series":"O-C"},{"year":1990.68,"value":1.3033,"series":"O-C"},{"year":1991.03,"value":1.3205,"series":"O-C"},{"year":1991.38,"value":1.3311,"series":"O-C"},{"year":1991.73,"value":1.3363,"series":"O-C"},{"year":1992.19,"value":1.3436,"series":"O-C"},{"year":1992.48,"value":1.3363,"series":"O-C"},{"year":1992.89,"value":1.3106,"series":"O-C"},{"year":1993.24,"value":1.285,"series":"O-C"},{"year":1993.47,"value":1.274,"series":"O-C"},{"year":1993.82,"value":1.2718,"series":"O-C"},{"year":1994.16,"value":1.2799,"series":"O-C"},{"year":1994.51,"value":1.285,"series":"O-C"},{"year":1994.86,"value":1.285,"series":"O-C"},{"year":1995.15,"value":1.285,"series":"O-C"},{"year":1995.44,"value":1.2996,"series":"O-C"},{"year":1995.79,"value":1.3253,"series":"O-C"},{"year":1996.14,"value":1.3436,"series":"O-C"},{"year":1996.49,"value":1.3487,"series":"O-C"},{"year":1996.83,"value":1.3385,"series":"O-C"},{"year":1997.18,"value":1.3216,"series":"O-C"},{"year":1997.47,"value":1.3106,"series":"O-C"},{"year":1997.7,"value":1.3121,"series":"O-C"},{"year":1997.99,"value":1.3363,"series":"O-C"},{"year":1998.34,"value":1.3692,"series":"O-C"},{"year":1998.69,"value":1.3912,"series":"O-C"},{"year":1999.04,"value":1.3963,"series":"O-C"},{"year":1999.39,"value":1.3875,"series":"O-C"},{"year":1999.73,"value":1.3729,"series":"O-C"},{"year":2000.08,"value":1.3634,"series":"O-C"},{"year":2000.43,"value":1.3582,"series":"O-C"},{"year":2000.78,"value":1.3546,"series":"O-C"},{"year":2001.13,"value":1.3546,"series":"O-C"},{"year":2001.47,"value":1.3634,"series":"O-C"},{"year":2001.82,"value":1.3766,"series":"O-C"},{"year":2002.17,"value":1.3927,"series":"O-C"},{"year":2002.52,"value":1.4081,"series":"O-C"},{"year":2002.75,"value":1.4095,"series":"O-C"},{"year":2002.98,"value":1.4022,"series":"O-C"},
      {"year":1981.92,"value":0.6293,"series":"O-CN"},{"year":1982.1,"value":0.6806,"series":"O-CN"},{"year":1982.27,"value":0.7319,"series":"O-CN"},{"year":1982.45,"value":0.7685,"series":"O-CN"},{"year":1982.68,"value":0.7941,"series":"O-CN"},{"year":1982.91,"value":0.8037,"series":"O-CN"},{"year":1983.14,"value":0.7941,"series":"O-CN"},{"year":1983.37,"value":0.781,"series":"O-CN"},{"year":1983.72,"value":0.7795,"series":"O-CN"},{"year":1984.07,"value":0.7905,"series":"O-CN"},{"year":1984.42,"value":0.7993,"series":"O-CN"},{"year":1984.65,"value":0.8015,"series":"O-CN"},{"year":1985.0,"value":0.7963,"series":"O-CN"},{"year":1985.35,"value":0.7868,"series":"O-CN"},{"year":1985.7,"value":0.7831,"series":"O-CN"},{"year":1986.04,"value":0.7817,"series":"O-CN"},{"year":1986.39,"value":0.7795,"series":"O-CN"},{"year":1986.74,"value":0.7795,"series":"O-CN"},{"year":1987.09,"value":0.7758,"series":"O-CN"},{"year":1987.44,"value":0.7685,"series":"O-CN"},{"year":1987.78,"value":0.7634,"series":"O-CN"},{"year":1988.13,"value":0.7612,"series":"O-CN"},{"year":1988.36,"value":0.7648,"series":"O-CN"},{"year":1988.71,"value":0.7795,"series":"O-CN"},{"year":1989.06,"value":0.7905,"series":"O-CN"},{"year":1989.41,"value":0.7963,"series":"O-CN"},{"year":1989.75,"value":0.7978,"series":"O-CN"},{"year":1990.1,"value":0.8015,"series":"O-CN"},{"year":1990.45,"value":0.8088,"series":"O-CN"},{"year":1990.8,"value":0.8198,"series":"O-CN"},{"year":1991.03,"value":0.8271,"series":"O-CN"},{"year":1991.21,"value":0.8286,"series":"O-CN"},{"year":1991.5,"value":0.8308,"series":"O-CN"},{"year":1991.96,"value":0.833,"series":"O-CN"},{"year":1992.42,"value":0.8344,"series":"O-CN"},{"year":1992.89,"value":0.8234,"series":"O-CN"},{"year":1993.35,"value":0.8088,"series":"O-CN"},{"year":1993.82,"value":0.8015,"series":"O-CN"},{"year":1994.28,"value":0.8015,"series":"O-CN"},{"year":1994.75,"value":0.8015,"series":"O-CN"},{"year":1995.09,"value":0.7993,"series":"O-CN"},{"year":1995.44,"value":0.8088,"series":"O-CN"},{"year":1995.91,"value":0.8271,"series":"O-CN"},{"year":1996.25,"value":0.8403,"series":"O-CN"},{"year":1996.6,"value":0.8403,"series":"O-CN"},{"year":1996.95,"value":0.8308,"series":"O-CN"},{"year":1997.3,"value":0.8139,"series":"O-CN"},{"year":1997.64,"value":0.8051,"series":"O-CN"},{"year":1997.99,"value":0.811,"series":"O-CN"},{"year":1998.34,"value":0.8308,"series":"O-CN"},{"year":1998.69,"value":0.8476,"series":"O-CN"},{"year":1999.04,"value":0.8506,"series":"O-CN"},{"year":1999.39,"value":0.8432,"series":"O-CN"},{"year":1999.73,"value":0.8308,"series":"O-CN"},{"year":2000.08,"value":0.8249,"series":"O-CN"},{"year":2000.43,"value":0.8234,"series":"O-CN"},{"year":2000.78,"value":0.822,"series":"O-CN"},{"year":2001.13,"value":0.8234,"series":"O-CN"},{"year":2001.47,"value":0.8271,"series":"O-CN"},{"year":2001.82,"value":0.8344,"series":"O-CN"},{"year":2002.17,"value":0.8432,"series":"O-CN"},{"year":2002.52,"value":0.8542,"series":"O-CN"},{"year":2002.75,"value":0.8579,"series":"O-CN"},{"year":2002.98,"value":0.855,"series":"O-CN"}
    ],
    "rects": [
      {"panel":"tl","x1":1982.22,"x2":1991.37,"y1":1.2963,"y2":1.8033},
      {"panel":"tr","x1":1981.87,"x2":1990.98,"y1":1.5965,"y2":2.4035},
      {"panel":"bl","x1":1982.17,"x2":1991.24,"y1":1.0029,"y2":1.562},
      {"panel":"br","x1":1981.84,"x2":1991.03,"y1":0.5011,"y2":1.4226}
    ],
    "labels": [
      {"panel":"tl","label":"Global","x":2001.39,"y":1.3345},
      {"panel":"tr","label":"30S:30N","x":2002.12,"y":1.6228},
      {"panel":"bl","label":"30N:60N","x":2002.3,"y":1.0376},
      {"panel":"br","label":"60N:90N","x":2001.71,"y":0.5598}
    ],
    "key": [
      {"series":"Data","x1":1994.42,"x2":1996.7,"y":2.1666,"lx":1998.05,"ly":2.1502},
      {"series":"O-C","x1":1994.42,"x2":1996.7,"y":2.0815,"lx":1998.05,"ly":2.043},
      {"series":"O-CN","x1":1994.42,"x2":1996.7,"y":1.9648,"lx":1998.05,"ly":1.9404}
    ]
  },
  "concat": [
    {
      "width": 608, "height": 458,
      "layer": [
        {
          "data": {"name": "tl"},
          "mark": {"type": "line", "strokeWidth": 2},
          "encoding": {
            "x": {"field": "year", "type": "quantitative", "scale": {"domain": [1982, 2003], "nice": false, "zero": false},
              "axis": {"orient": "bottom", "values": [1982,1983,1984,1985,1986,1987,1988,1989,1990,1991,1992,1993,1994,1995,1996,1997,1998,1999,2000,2001,2002,2003], "format": "d", "labelExpr": "datum.value % 5 === 0 ? datum.label : ''", "tickSize": {"condition": {"test": "datum.value % 5 === 0", "value": 9}, "value": 5}, "labelFontSize": 34, "labelPadding": 13, "labelOffset": 7}},
            "y": {"field": "value", "type": "quantitative", "scale": {"domain": [1.3, 1.8], "nice": false, "zero": false},
              "axis": {"orient": "left", "values": [1.8,1.76,1.72,1.68,1.64,1.6,1.56,1.52,1.48,1.44,1.4,1.38,1.36,1.32], "format": ".2~f", "labelExpr": "indexof([1.8,1.68,1.52,1.38], datum.value) >= 0 ? datum.label : ''", "tickOpacity": {"condition": {"test": "datum.value === 1.38", "value": 0}, "value": 1}, "labelPadding": 23}},
            "color": {"field": "series", "type": "nominal", "scale": {"domain": ["Data", "O-C", "O-CN"], "range": ["#111111", "#ee2e24", "#5ee85e"]}, "legend": null}
          }
        },
        {
          "data": {"name": "rects"},
          "transform": [{"filter": "datum.panel === 'tl'"}],
          "mark": {"type": "rect", "fill": "#c1ecfa", "stroke": "#000000", "strokeWidth": 2, "blend": "multiply"},
          "encoding": {
            "x": {"field": "x1", "type": "quantitative", "axis": {"orient": "top", "values": [1982,1983,1984,1985,1986,1987,1988,1989,1990,1991,1992,1993,1994,1995,1996,1997,1998,1999,2000,2001,2002,2003], "labels": false, "tickSize": {"condition": {"test": "datum.value % 5 === 0", "value": 9}, "value": 5}}},
            "x2": {"field": "x2"},
            "y": {"field": "y1", "type": "quantitative", "axis": {"orient": "right", "values": [1.8,1.76,1.72,1.68,1.64,1.6,1.56,1.52,1.48,1.44,1.4,1.36,1.32], "labels": false}},
            "y2": {"field": "y2"}
          }
        },
        {
          "data": {"name": "labels"},
          "transform": [{"filter": "datum.panel === 'tl'"}],
          "mark": {"type": "text", "align": "right", "baseline": "alphabetic", "fontSize": 48, "font": "Liberation Sans", "color": "#3a9ad9"},
          "encoding": {
            "x": {"field": "x", "type": "quantitative", "axis": null},
            "y": {"field": "y", "type": "quantitative", "axis": null},
            "text": {"field": "label"}
          }
        }
      ]
    },
    {
      "width": 613, "height": 458,
      "layer": [
        {
          "data": {"name": "tr"},
          "mark": {"type": "line", "strokeWidth": 2},
          "encoding": {
            "x": {"field": "year", "type": "quantitative", "scale": {"domain": [1981.87, 2003.0], "nice": false, "zero": false},
              "axis": {"orient": "bottom", "values": [1982,1983,1984,1985,1986,1987,1988,1989,1990,1991,1992,1993,1994,1995,1996,1997,1998,1999,2000,2001,2002,2003], "format": "d", "labelExpr": "datum.value % 5 === 0 ? datum.label : ''", "tickSize": {"condition": {"test": "datum.value % 5 === 0", "value": 9}, "value": 5}, "labelFontSize": 34, "labelPadding": 16, "labelOffset": -4}},
            "y": {"field": "value", "type": "quantitative", "scale": {"domain": [1.6, 2.4], "nice": false, "zero": false},
              "axis": {"orient": "left", "values": [2.36,2.32,2.28,2.24,2.2,2.16,2.12,2.08,2.04,2,1.96,1.92,1.88,1.84,1.8,1.76,1.72,1.68,1.64], "labels": false}},
            "color": {"field": "series", "type": "nominal", "scale": {"domain": ["Data", "O-C", "O-CN"], "range": ["#111111", "#ee2e24", "#5ee85e"]}, "legend": null}
          }
        },
        {
          "data": {"name": "rects"},
          "transform": [{"filter": "datum.panel === 'tr'"}],
          "mark": {"type": "rect", "fill": "#c1ecfa", "stroke": "#000000", "strokeWidth": 2, "blend": "multiply"},
          "encoding": {
            "x": {"field": "x1", "type": "quantitative", "axis": {"orient": "top", "values": [1982,1983,1984,1985,1986,1987,1988,1989,1990,1991,1992,1993,1994,1995,1996,1997,1998,1999,2000,2001,2002,2003], "labels": false, "tickSize": {"condition": {"test": "datum.value % 5 === 0", "value": 9}, "value": 5}}},
            "x2": {"field": "x2"},
            "y": {"field": "y1", "type": "quantitative", "axis": {"orient": "right", "values": [2.36,2.32,2.28,2.24,2.2,2.16,2.12,2.08,2.04,2,1.96,1.92,1.88,1.84,1.8,1.76,1.72,1.68,1.64], "format": ".2~f", "labelExpr": "indexof([2.36,2.2,1.96,1.72], datum.value) >= 0 ? datum.label : ''", "labelPadding": 22}},
            "y2": {"field": "y2"}
          }
        },
        {
          "data": {"name": "key"},
          "mark": {"type": "rule", "strokeWidth": 5},
          "encoding": {
            "x": {"field": "x1", "type": "quantitative", "axis": null},
            "x2": {"field": "x2"},
            "y": {"field": "y", "type": "quantitative", "axis": null},
            "color": {"field": "series", "type": "nominal", "legend": null}
          }
        },
        {
          "data": {"name": "key"},
          "mark": {"type": "text", "align": "left", "baseline": "alphabetic", "fontSize": 48, "font": "Liberation Sans", "color": "#3a9ad9"},
          "encoding": {
            "x": {"field": "lx", "type": "quantitative", "axis": null},
            "y": {"field": "ly", "type": "quantitative", "axis": null},
            "text": {"field": "series"}
          }
        },
        {
          "data": {"name": "labels"},
          "transform": [{"filter": "datum.panel === 'tr'"}],
          "mark": {"type": "text", "align": "right", "baseline": "alphabetic", "fontSize": 48, "font": "Liberation Sans", "color": "#3a9ad9"},
          "encoding": {
            "x": {"field": "x", "type": "quantitative", "axis": null},
            "y": {"field": "y", "type": "quantitative", "axis": null},
            "text": {"field": "label"}
          }
        }
      ]
    },
    {
      "width": 614, "height": 442,
      "resolve": {"axis": {"x": "independent", "y": "independent"}},
      "layer": [
        {
          "data": {"name": "bl"},
          "mark": {"type": "line", "strokeWidth": 2},
          "encoding": {
            "x": {"field": "year", "type": "quantitative", "scale": {"domain": [1982, 2003], "nice": false, "zero": false},
              "axis": {"orient": "bottom", "values": [1982,1983,1984,1985,1986,1987,1988,1989,1990,1991,1992,1993,1994,1995,1996,1997,1998,1999,2000,2001,2002,2003], "format": "d", "labelExpr": "datum.value % 5 === 0 ? datum.label : ''", "tickSize": {"condition": {"test": "datum.value % 5 === 0", "value": 9}, "value": 5}, "labelFontSize": 34, "labelPadding": 18, "labelOffset": 19}},
            "y": {"field": "value", "type": "quantitative", "scale": {"domain": [1.0, 1.575], "nice": false, "zero": false},
              "axis": {"orient": "left", "values": [1.56,1.52,1.48,1.44,1.4,1.36,1.32,1.28,1.24,1.2,1.16,1.12,1.08,1.04], "format": ".2~f", "labelExpr": "indexof([1.56,1.4,1.24,1.08], datum.value) >= 0 ? datum.label : ''", "labelPadding": 25}},
            "color": {"field": "series", "type": "nominal", "scale": {"domain": ["Data", "O-C", "O-CN"], "range": ["#111111", "#ee2e24", "#5ee85e"]}, "legend": null}
          }
        },
        {
          "data": {"name": "rects"},
          "transform": [{"filter": "datum.panel === 'bl'"}],
          "mark": {"type": "rect", "fill": "#c1ecfa", "stroke": "#000000", "strokeWidth": 2, "blend": "multiply"},
          "encoding": {
            "x": {"field": "x1", "type": "quantitative", "axis": null},
            "x2": {"field": "x2"},
            "y": {"field": "y1", "type": "quantitative", "axis": {"orient": "right", "values": [1.56,1.52,1.48,1.44,1.4,1.36,1.32,1.28,1.24,1.2,1.16,1.12,1.08,1.04], "labels": false}},
            "y2": {"field": "y2"}
          }
        },
        {
          "data": {"name": "labels"},
          "transform": [{"filter": "datum.panel === 'bl'"}],
          "mark": {"type": "text", "align": "right", "baseline": "alphabetic", "fontSize": 48, "font": "Liberation Sans", "color": "#3a9ad9"},
          "encoding": {
            "x": {"field": "x", "type": "quantitative", "axis": null},
            "y": {"field": "y", "type": "quantitative", "axis": null},
            "text": {"field": "label"}
          }
        }
      ]
    },
    {
      "width": 606, "height": 442,
      "resolve": {"axis": {"x": "independent", "y": "independent"}},
      "layer": [
        {
          "data": {"name": "br"},
          "mark": {"type": "line", "strokeWidth": 2},
          "encoding": {
            "x": {"field": "year", "type": "quantitative", "scale": {"domain": [1981.92, 2003.02], "nice": false, "zero": false},
              "axis": {"orient": "bottom", "values": [1982,1983,1984,1985,1986,1987,1988,1989,1990,1991,1992,1993,1994,1995,1996,1997,1998,1999,2000,2001,2002,2003], "format": "d", "labelExpr": "datum.value % 5 === 0 ? datum.label : ''", "tickSize": {"condition": {"test": "datum.value % 5 === 0", "value": 9}, "value": 5}, "labelFontSize": 34, "labelPadding": 18, "labelOffset": -2}},
            "y": {"field": "value", "type": "quantitative", "scale": {"domain": [0.5, 1.4714], "nice": false, "zero": false},
              "axis": {"orient": "left", "values": [1.44,1.4,1.36,1.32,1.28,1.24,1.2,1.16,1.12,1.08,1.04,1,0.96,0.92,0.88,0.84,0.8,0.76,0.72,0.68,0.64,0.6,0.56,0.52], "labels": false}},
            "color": {"field": "series", "type": "nominal", "scale": {"domain": ["Data", "O-C", "O-CN"], "range": ["#111111", "#ee2e24", "#5ee85e"]}, "legend": null}
          }
        },
        {
          "data": {"name": "rects"},
          "transform": [{"filter": "datum.panel === 'br'"}],
          "mark": {"type": "rect", "fill": "#c1ecfa", "stroke": "#000000", "strokeWidth": 2, "blend": "multiply"},
          "encoding": {
            "x": {"field": "x1", "type": "quantitative", "axis": null},
            "x2": {"field": "x2"},
            "y": {"field": "y1", "type": "quantitative", "axis": {"orient": "right", "values": [1.44,1.4,1.36,1.32,1.28,1.24,1.2,1.16,1.12,1.08,1.04,1,0.96,0.92,0.88,0.84,0.8,0.76,0.72,0.68,0.64,0.6,0.56,0.52], "format": ".2~f", "labelExpr": "indexof([1.4,1.16,0.92,0.6], datum.value) >= 0 ? datum.label : ''", "labelPadding": 27}},
            "y2": {"field": "y2"}
          }
        },
        {
          "data": {"name": "labels"},
          "transform": [{"filter": "datum.panel === 'br'"}],
          "mark": {"type": "text", "align": "right", "baseline": "alphabetic", "fontSize": 48, "font": "Liberation Sans", "color": "#3a9ad9"},
          "encoding": {
            "x": {"field": "x", "type": "quantitative", "axis": null},
            "y": {"field": "y", "type": "quantitative", "axis": null},
            "text": {"field": "label"}
          }
        }
      ]
    }
  ]
}
